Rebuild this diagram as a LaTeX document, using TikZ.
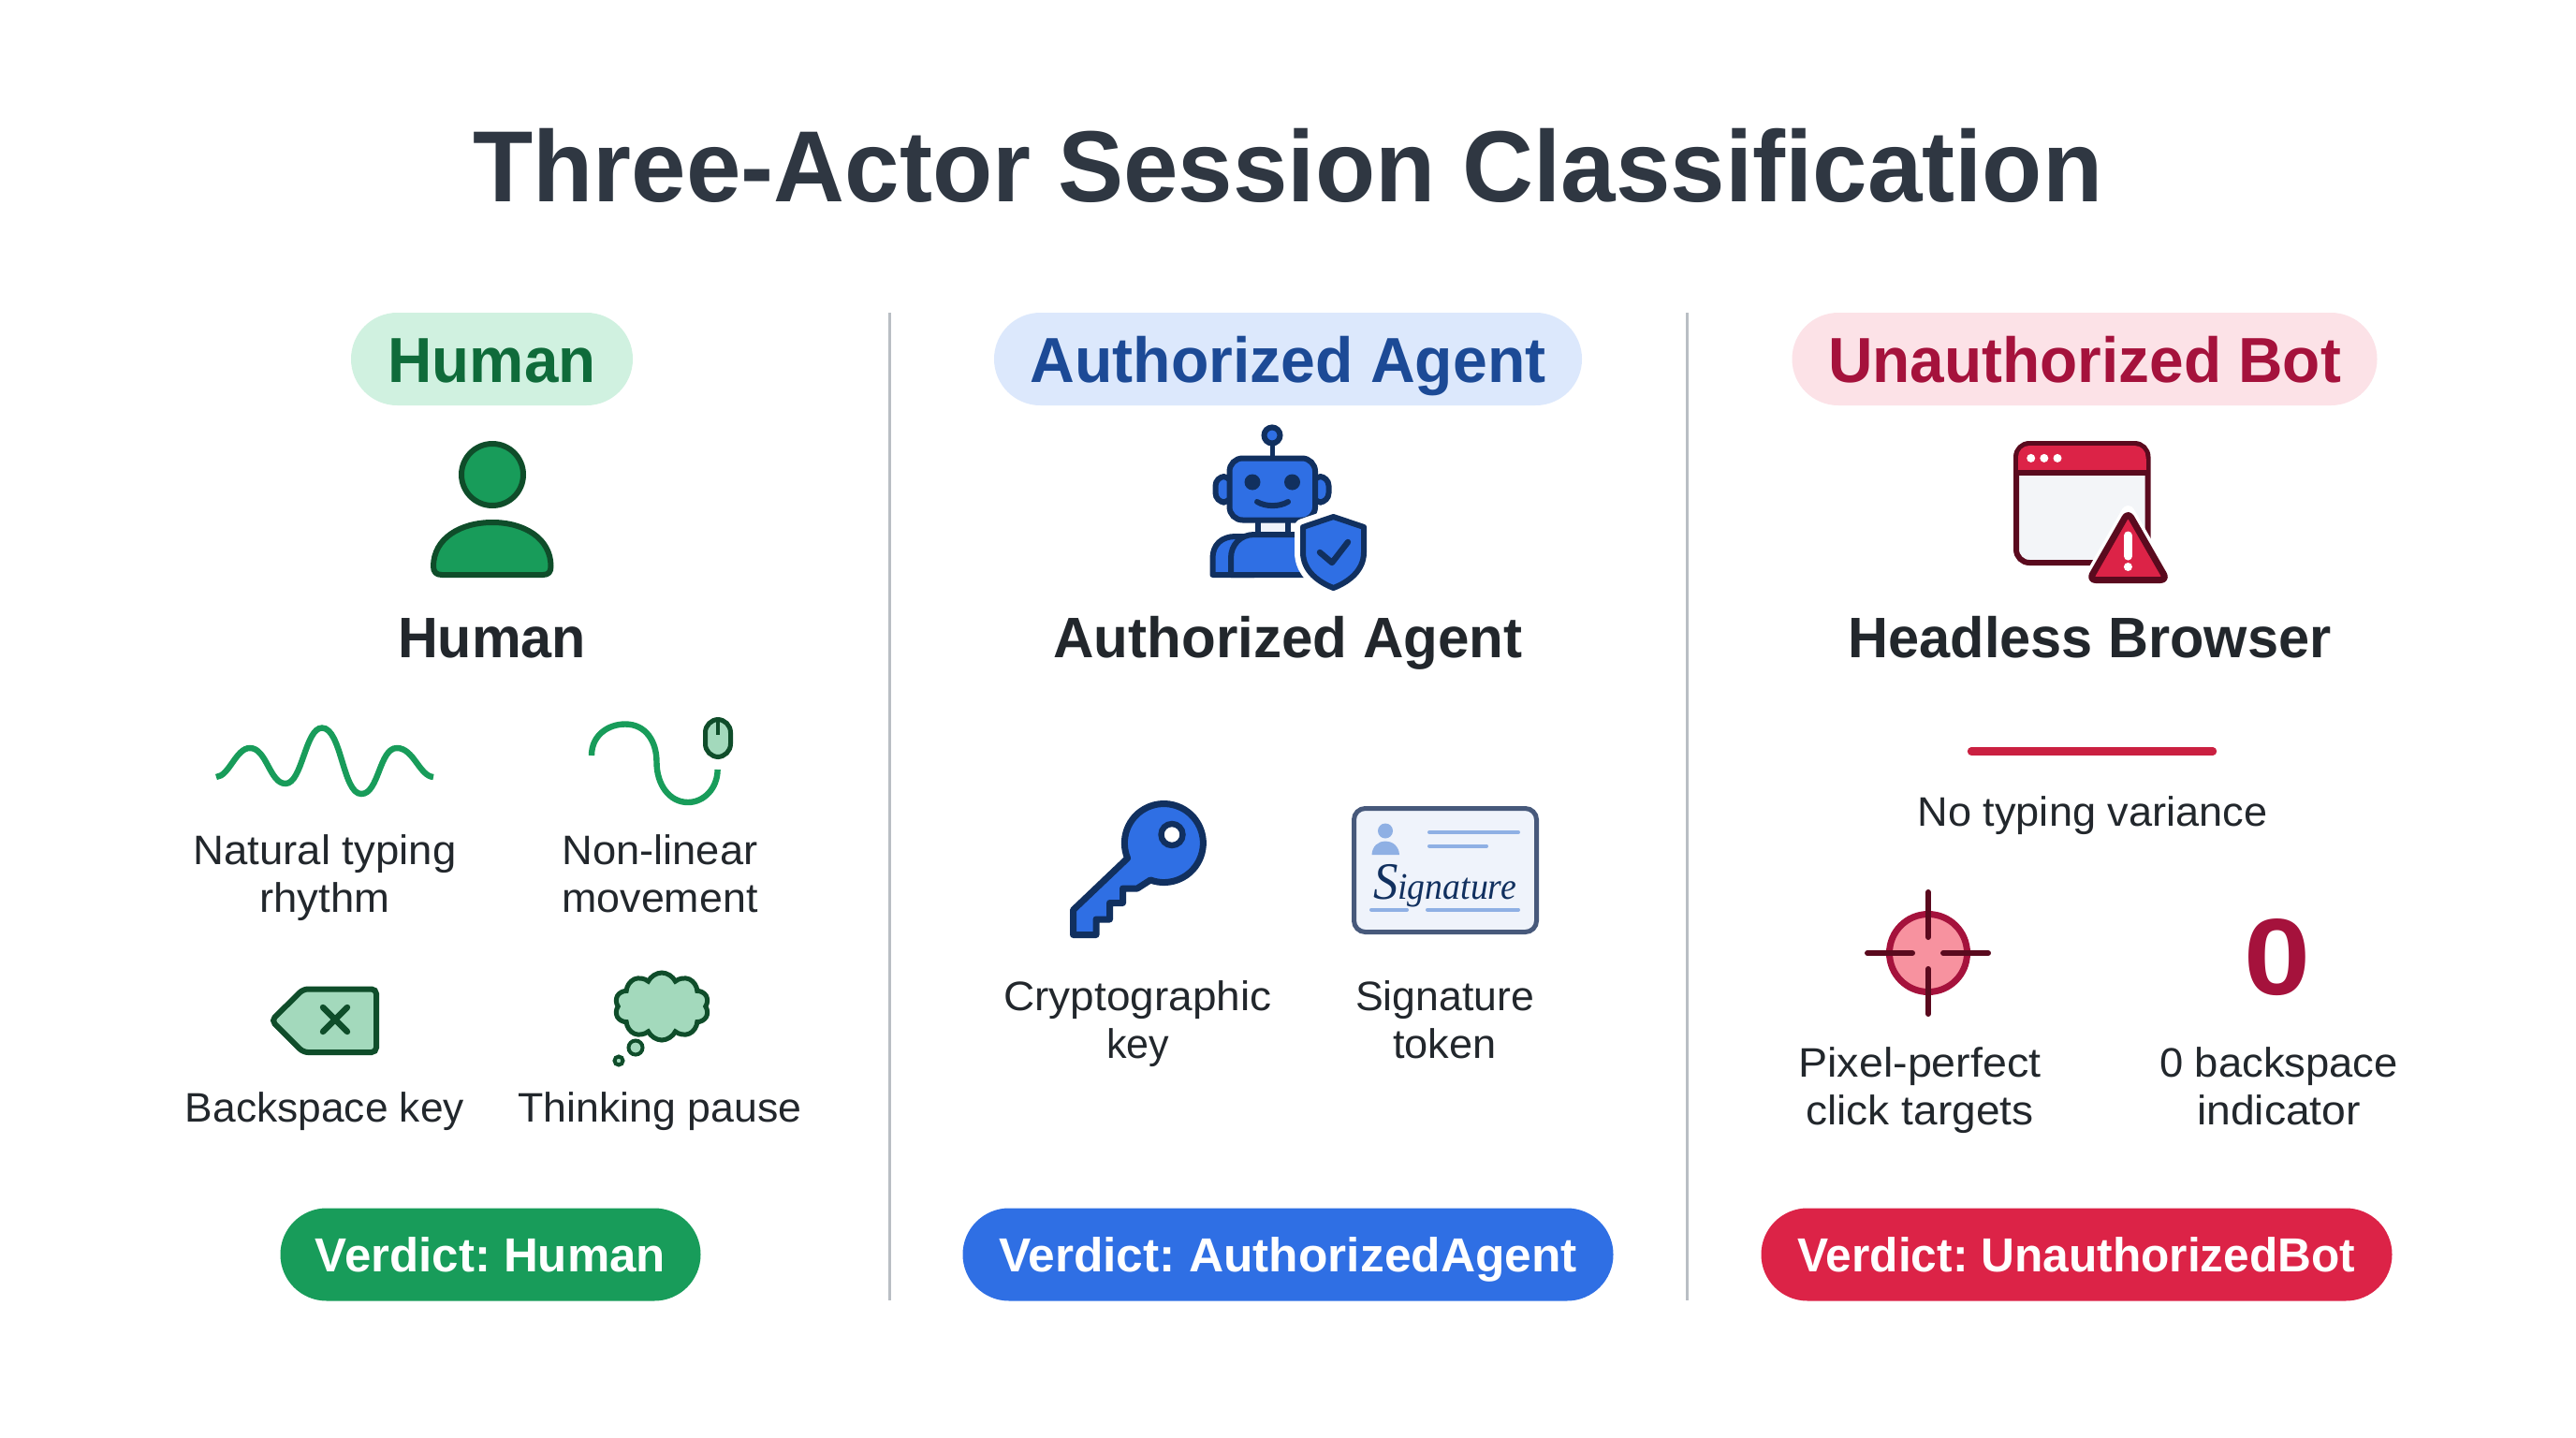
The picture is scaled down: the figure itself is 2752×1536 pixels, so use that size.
\documentclass[tikz,border=0pt]{standalone}
\usepackage{fontspec}
\usepackage{graphicx}
\setmainfont{Liberation Sans}
\newfontfamily\sigfont{Liberation Serif}
\usetikzlibrary{shapes.symbols}
\newlength\pxu \setlength\pxu{0.5pt}
\newcommand\W[2]{\resizebox{#1\pxu}{\height}{#2}}
\AtBeginDocument{\frenchspacing}
\definecolor{gFill}{HTML}{189C5A}\definecolor{gDark}{HTML}{0F4D2A}\definecolor{gSoft}{HTML}{A3D9BC}\definecolor{gPill}{HTML}{D0F1E0}\definecolor{gText}{HTML}{0F6B3A}
\definecolor{bFill}{HTML}{2F6FE4}\definecolor{bDark}{HTML}{11305F}\definecolor{bPill}{HTML}{DCE8FC}\definecolor{bText}{HTML}{1C4A96}\definecolor{bSoft}{HTML}{8FB0E4}\definecolor{bCard}{HTML}{EFF3FB}\definecolor{bEdge}{HTML}{47597B}
\definecolor{rFill}{HTML}{DC2347}\definecolor{rDark}{HTML}{5A0A1E}\definecolor{rPill}{HTML}{FCE2E7}\definecolor{rText}{HTML}{A5123C}\definecolor{rSoft}{HTML}{F7929F}\definecolor{rPane}{HTML}{F3F5F8}
\definecolor{ink}{HTML}{22272C}\definecolor{titleInk}{HTML}{2F3742}\definecolor{rule}{HTML}{B9BEC4}
\tikzset{
  x=0.5pt,y=-0.5pt,
  pill/.style={inner sep=0pt,minimum height=49.5pt,rounded corners=24.7pt,text height=24.5pt,text depth=0pt,font=\fontsize{34}{34}\selectfont\bfseries},
  verdict/.style={inner sep=0pt,minimum height=49.5pt,rounded corners=24.7pt,text height=18.5pt,text depth=0pt,text=white,font=\fontsize{25.5}{26}\selectfont\bfseries},
  heading/.style={anchor=base,inner sep=0pt,text=ink,font=\fontsize{30.5}{31}\selectfont\bfseries},
  label/.style={anchor=base,inner sep=0pt,text=ink,align=center,font=\fontsize{22}{25.5}\selectfont},
  divider/.style={draw=rule,line width=1.5pt},
  rnd/.style={line cap=round,line join=round},
}
\begin{document}
\begin{tikzpicture}
\useasboundingbox[fill=white] (0,0) rectangle (2752,1536);
% title
\node[anchor=base,inner sep=0pt,text=titleInk,font=\fontsize{54}{54}\selectfont\bfseries] (title) at (1376,215) {\W{1741}{Three-Actor Session Classification}};
% dividers
\coordinate (d1a) at (950,334); \coordinate (d1b) at (950,1389);
\coordinate (d2a) at (1802.5,334); \coordinate (d2b) at (1802.5,1389);
\draw[divider] (d1a) -- (d1b);
\draw[divider] (d2a) -- (d2b);
% top pills
\node[pill,fill=gPill,text=gText,minimum width=150.5pt] (pillH) at (525.5,383.5) {\W{222}{Human}};
\node[pill,fill=bPill,text=bText,minimum width=314pt] (pillA) at (1376,383.5) {\W{551}{Authorized Agent}};
\node[pill,fill=rPill,text=rText,minimum width=312.5pt] (pillU) at (2227,383.5) {\W{548}{Unauthorized Bot}};
% headings
\node[heading] (headH) at (525.5,702) {\W{201}{Human}};
\node[heading] (headA) at (1376,702) {\W{501}{Authorized Agent}};
\node[heading] (headU) at (2232.5,702) {\W{516}{Headless Browser}};
% verdicts
\node[verdict,fill=gFill,minimum width=224.5pt] (verH) at (524,1340) {\W{374}{Verdict: Human}};
\node[verdict,fill=bFill,minimum width=347.5pt] (verA) at (1376,1340) {\W{618}{Verdict: AuthorizedAgent}};
\node[verdict,fill=rFill,minimum width=337pt] (verU) at (2218.5,1340) {\W{596}{Verdict: UnauthorizedBot}};

% ---- human person
\draw[fill=gFill,draw=gDark,line width=3pt] (526,507) circle[radius=33];
\draw[fill=gFill,draw=gDark,line width=3pt,rnd] (472,614) -- (580,614) .. controls (586,614) and (588.5,611) .. (588.5,605) .. controls (588.5,575) and (560,558) .. (526,558) .. controls (492,558) and (463,575) .. (463,605) .. controls (463,611) and (466,614) .. (472,614) -- cycle;
% wave
\draw[draw=gFill,line width=3.2pt] (231,830) .. controls (245,829) and (252,799) .. (267,799) .. controls (285,799) and (288,837) .. (305,837) .. controls (323,837) and (326,777.5) .. (344,777.5) .. controls (365,777.5) and (366,848) .. (386,848) .. controls (405,848) and (405,799) .. (424,799) .. controls (442,799) and (448,829) .. (463,830);
% mouse path
\draw[draw=gFill,line width=3.2pt] (632,807) .. controls (632,785) and (650,773.5) .. (668,773.5) .. controls (690,773.5) and (701.5,792) .. (701.5,814) .. controls (701.5,838) and (715,857) .. (735,857) .. controls (752,857) and (766.6,842) .. (766.6,822);
\draw[fill=gSoft,draw=gDark,line width=2.5pt,rounded corners=7pt] (753.5,768.5) rectangle (780.5,808.5);
\draw[draw=gDark,line width=2pt] (766.6,768) -- (766.6,785);
% backspace
\draw[fill=gSoft,draw=gDark,line width=3pt,rounded corners=2.5pt] (290,1090) -- (324,1056.5) -- (402,1056.5) -- (402,1124) -- (324,1124) -- cycle;
\draw[draw=gDark,line width=3.2pt,line cap=round] (345,1076) -- (371,1102) (371,1076) -- (345,1102);
% cloud
\node[cloud,cloud puffs=10,cloud puff arc=130,aspect=1.35,draw=gDark,fill=gSoft,line width=2.5pt,inner sep=0pt,minimum width=50pt,minimum height=36pt] (thought) at (707,1075) {};
\draw[fill=gSoft,draw=gDark,line width=2pt] (679,1119) circle[radius=7.5];
\draw[fill=gSoft,draw=gDark,line width=2pt] (661,1133) circle[radius=4.5];
% human labels
\node[label] (l1) at (347,974) {\W{281}{Natural typing}\\\W{139}{rhythm}};
\node[label] (l2) at (705,974) {\W{209}{Non-linear}\\\W{209}{movement}};
\node[label] (l3) at (347,1198) {\W{298}{Backspace key}};
\node[label] (l4) at (705,1198) {\W{303}{Thinking pause}};

% ---- robot
\draw[draw=bDark,line width=2.5pt] (1359,470) -- (1359,489);
\draw[fill=bFill,draw=bDark,line width=3pt] (1359,465) circle[radius=8.5];
\draw[fill=bFill,draw=bDark,line width=3pt,rounded corners=5pt] (1298.5,509) rectangle (1316,536.5);
\draw[fill=bFill,draw=bDark,line width=3pt,rounded corners=5pt] (1402,509) rectangle (1419.5,536.5);
\draw[fill=bCard,draw=bDark,line width=3pt] (1344,555) rectangle (1376,572);
\draw[fill=bFill,draw=bDark,line width=3pt,rnd] (1295.5,614) -- (1295.5,596) .. controls (1295.5,582) and (1305,573) .. (1320,573) -- (1340,573) -- (1340,614) -- cycle;
\draw[fill=bFill,draw=bDark,line width=3pt,rnd] (1315,614) -- (1315,596) .. controls (1315,582) and (1325,571) .. (1340,571) -- (1400,571) -- (1400,614) -- cycle;
\draw[fill=bFill,draw=bDark,line width=3pt,rounded corners=7pt] (1313.5,489.5) rectangle (1405,555.5);
\fill[bDark] (1338,515) circle[radius=8.5] (1380.5,515) circle[radius=8.5];
\draw[draw=bDark,line width=3pt,line cap=round] (1343,536) .. controls (1352,541.5) and (1367,541.5) .. (1376,536);
% shield
\draw[draw=white,line width=9pt,line join=round,fill=white] (1424.5,552) -- (1457,563) -- (1457,590) .. controls (1457,610) and (1440,622) .. (1424.5,628) .. controls (1409,622) and (1392,610) .. (1392,590) -- (1392,563) -- cycle;
\draw[draw=bDark,line width=3pt,line join=round,fill=bFill] (1424.5,552) -- (1457,563) -- (1457,590) .. controls (1457,610) and (1440,622) .. (1424.5,628) .. controls (1409,622) and (1392,610) .. (1392,590) -- (1392,563) -- cycle;
\draw[draw=bDark,line width=3.2pt,rnd] (1410,590) -- (1423,601) -- (1440,579);
% key
\draw[fill=bFill,draw=bDark,line width=3.5pt,line join=round] (1229,940) arc[start angle=110,end angle=-202.6,radius=42] -- (1146.5,972) -- (1146.5,998.5) -- (1171,998.5) -- (1171,982) -- (1185.5,982) -- (1185.5,964.5) -- (1199.5,964.5) -- (1199.5,949) -- (1215,949) -- cycle;
\draw[fill=white,draw=bDark,line width=3.2pt] (1252,891.5) circle[radius=11.5];
% card
\draw[fill=bCard,draw=bEdge,line width=2.5pt,rounded corners=6pt] (1446.5,863.5) rectangle (1641.5,995.5);
\fill[bSoft] (1480,887.5) circle[radius=8];
\fill[bSoft] (1465.5,913) .. controls (1466,904) and (1472,898.6) .. (1480,898.6) .. controls (1488,898.6) and (1494.5,904) .. (1495,913) -- cycle;
\draw[draw=bSoft,line width=2pt,line cap=round] (1527,889) -- (1622,889);
\draw[draw=bSoft,line width=2pt,line cap=round] (1527,903.7) -- (1588,903.7);
\draw[draw=bSoft,line width=2pt,line cap=round] (1465,971.7) -- (1503,971.7);
\draw[draw=bSoft,line width=2pt,line cap=round] (1525,971.7) -- (1622,971.7);
\node[anchor=base,inner sep=0pt,text=bDark] (sig) at (1543.5,960) {\W{153}{\sigfont\itshape\fontsize{28}{28}\selectfont S\fontsize{20}{20}\selectfont ignature}};
% ---- labels centre
\node[label] (l5) at (1215.5,1130) {\W{286}{Cryptographic}\\\W{67}{key}};
\node[label] (l6) at (1543.5,1130) {\W{191}{Signature}\\\W{110.5}{token}};

% ---- browser
\draw[fill=rPane,draw=rDark,line width=3pt,rounded corners=7pt] (2154,474) rectangle (2294.5,601);
\fill[rFill,rounded corners=6pt] (2156,476) -- (2292.5,476) -- (2292.5,505) -- (2156,505) -- cycle;
\fill[rFill] (2156,490) rectangle (2292.5,505);
\draw[draw=rDark,line width=3pt] (2154,505) -- (2294.5,505);
\fill[white] (2169.7,489.4) circle[radius=4.5] (2183.8,489.4) circle[radius=4.5] (2198,489.4) circle[radius=4.5];
% warning triangle
\draw[draw=white,line width=7pt,line join=round,fill=white] (2273.4,547) -- (2315,619.5) -- (2232,619.5) -- cycle;
\draw[fill=rFill,draw=rDark,line width=3.5pt,line join=round,rounded corners=3.5pt] (2273.4,547) -- (2315,619.5) -- (2232,619.5) -- cycle;
\draw[draw=white,line width=4.5pt,line cap=round] (2273.4,572) -- (2273.4,594);
\fill[white] (2273.4,605.5) circle[radius=4.5];
% red bar
\coordinate (bar1) at (2106,802.5); \coordinate (bar2) at (2364,802.5);
\draw[draw=rFill!92!black,line width=4.2pt,line cap=round] (bar1) -- (bar2);
\node[label] (l7) at (2235.5,882) {\W{374}{No typing variance}};
% crosshair
\draw[fill=rSoft,draw=rText,line width=3.5pt] (2060,1018) circle[radius=41.5];
\draw[draw=rDark,line width=3pt,line cap=round] (1995,1018) -- (2043,1018) (2076,1018) -- (2124,1018) (2060,953) -- (2060,1001) (2060,1035) -- (2060,1083);
% zero
\node[anchor=base,inner sep=0pt,text=rText,font=\fontsize{58}{58}\selectfont\bfseries] (zero) at (2433,1062) {\scalebox{1.1}[1]{0}};
\node[label] (l8) at (2051,1201) {\W{259}{Pixel-perfect}\\\W{243}{click targets}};
\node[label] (l9) at (2434.5,1201) {\W{255}{0 backspace}\\\W{175}{indicator}};
\end{tikzpicture}
\end{document}
